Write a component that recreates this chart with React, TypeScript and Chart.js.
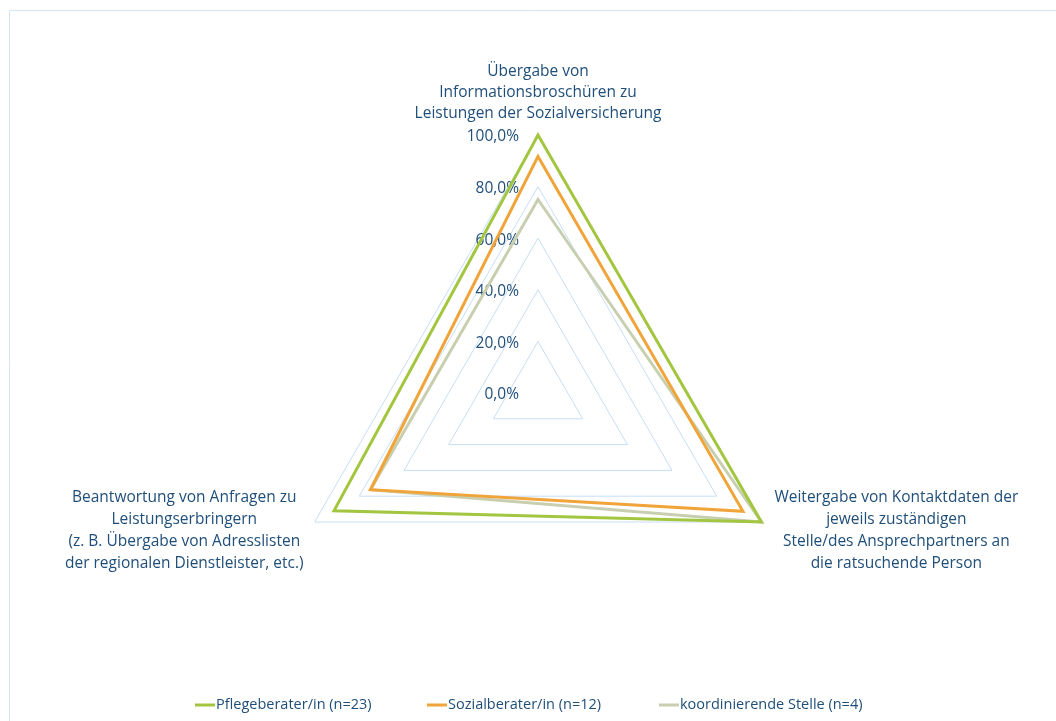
import React, { useEffect, useRef } from "react";
import { Chart, registerables } from "chart.js";

Chart.register(...registerables);

const categories: string[][] = [
  ["Übergabe von", "Informationsbroschüren zu", "Leistungen der Sozialversicherung"],
  ["Weitergabe von Kontaktdaten der", "jeweils zuständigen", "Stelle/des Ansprechpartners an", "die ratsuchende Person"],
  ["Beantwortung von Anfragen zu", "Leistungserbringern", "(z. B. Übergabe von Adresslisten", "der regionalen Dienstleister, etc.)"],
];
const seriesNames = ["Pflegeberater/in (n=23)", "Sozialberater/in (n=12)", "koordinierende Stelle (n=4)"];
const pflegeValues = [100, 100, 91.3];
const sozialValues = [91.7, 91.7, 75];
const koordValues = [75, 100, 75];
const seriesColors = ["#A2C63F", "#F0A43A", "#C8CFB0"];
const tickMin = 0;
const tickMax = 100;
const tickStep = 20;

const TEXT_COLOR = "#1F4E79";
const FONT_FAMILY = '"Open Sans", sans-serif';
const fmt = (v: number) => v.toFixed(1).replace(".", ",") + "%";

const customPlugin = {
  id: "customDraw",
  beforeDraw(chart: any) {
    const ctx = chart.ctx;
    ctx.save();
    ctx.strokeStyle = "#D5E5F5";
    ctx.lineWidth = 1;
    ctx.beginPath();
    ctx.moveTo(9.5, chart.height);
    ctx.lineTo(9.5, 10.5);
    ctx.lineTo(chart.width, 10.5);
    ctx.stroke();
    ctx.restore();
  },
  beforeDatasetsDraw(chart: any) {
    const ctx = chart.ctx;
    const scale = chart.scales.r;
    ctx.save();
    ctx.font = `15.5px ${FONT_FAMILY}`;
    ctx.fillStyle = TEXT_COLOR;
    ctx.textAlign = "right";
    ctx.textBaseline = "middle";
    scale.ticks.forEach((t: any) => {
      const d = scale.getDistanceFromCenterForValue(t.value);
      ctx.fillText(fmt(t.value), scale.xCenter - 19, scale.yCenter - d + 2);
    });
    ctx.restore();
  },
  afterDraw(chart: any) {
    const ctx = chart.ctx;
    const scale = chart.scales.r;
    ctx.save();
    ctx.font = `15.5px ${FONT_FAMILY}`;
    ctx.fillStyle = TEXT_COLOR;
    ctx.textAlign = "center";
    ctx.textBaseline = "middle";
    const lh = 22;
    (chart.data.labels as string[][]).forEach((lines, i) => {
      const p = scale.getPointPosition(i, scale.drawingArea);
      const w = Math.max(...lines.map((l) => ctx.measureText(l).width));
      let cx: number;
      let y0: number;
      if (i === 0) {
        cx = p.x;
        y0 = p.y - 21 - (lines.length - 1) * 21;
        lines.forEach((l, k) => ctx.fillText(l, cx, y0 + k * 21));
        return;
      } else if (p.x > scale.xCenter) {
        cx = p.x + 13 + w / 2;
        y0 = p.y - 24;
      } else {
        cx = p.x - 11 - w / 2;
        y0 = p.y - 24;
      }
      lines.forEach((l, k) => ctx.fillText(l, cx, y0 + k * lh));
    });

    // legend
    ctx.font = `14.5px ${FONT_FAMILY}`;
    ctx.textAlign = "left";
    const slot = 232;
    const marker = 20;
    const n = chart.data.datasets.length;
    const startX = chart.width / 2 - (slot * n) / 2 + 15;
    const ly = 705;
    chart.data.datasets.forEach((ds: any, k: number) => {
      const x = startX + k * slot;
      ctx.strokeStyle = ds.borderColor;
      ctx.lineWidth = 3;
      ctx.beginPath();
      ctx.moveTo(x, ly);
      ctx.lineTo(x + marker, ly);
      ctx.stroke();
      ctx.fillText(ds.label, x + marker + 1, ly);
    });
    ctx.restore();
  },
};

export default function App() {
  const ref = useRef<HTMLCanvasElement | null>(null);
  useEffect(() => {
    if (!ref.current) return;
    const values = [pflegeValues, sozialValues, koordValues];
    const chart = new Chart(ref.current, {
      type: "radar",
      data: {
        labels: categories,
        datasets: values.map((v, i) => ({
          label: seriesNames[i],
          data: v,
          borderColor: seriesColors[i],
          backgroundColor: "transparent",
          borderWidth: 3,
          borderJoinStyle: "miter" as const,
          pointRadius: 0,
          pointHoverRadius: 0,
          fill: false,
          tension: 0,
        })),
      },
      options: {
        responsive: false,
        animation: false,
        layout: { padding: { top: 135, bottom: 70, left: 280, right: 260 } },
        plugins: { legend: { display: false }, tooltip: { enabled: false } },
        scales: {
          r: {
            min: tickMin,
            max: tickMax,
            ticks: { stepSize: tickStep, display: false },
            grid: { color: "#C5DEF5", lineWidth: 1 },
            angleLines: { display: false },
            pointLabels: { display: false },
          },
        },
      },
      plugins: [customPlugin],
    });
    return () => chart.destroy();
  }, []);
  return (
    <div style={{ position: "fixed", left: 0, top: 0, width: 1056, height: 721, background: "#fff" }}>
      <canvas ref={ref} width={1056} height={721} />
    </div>
  );
}
